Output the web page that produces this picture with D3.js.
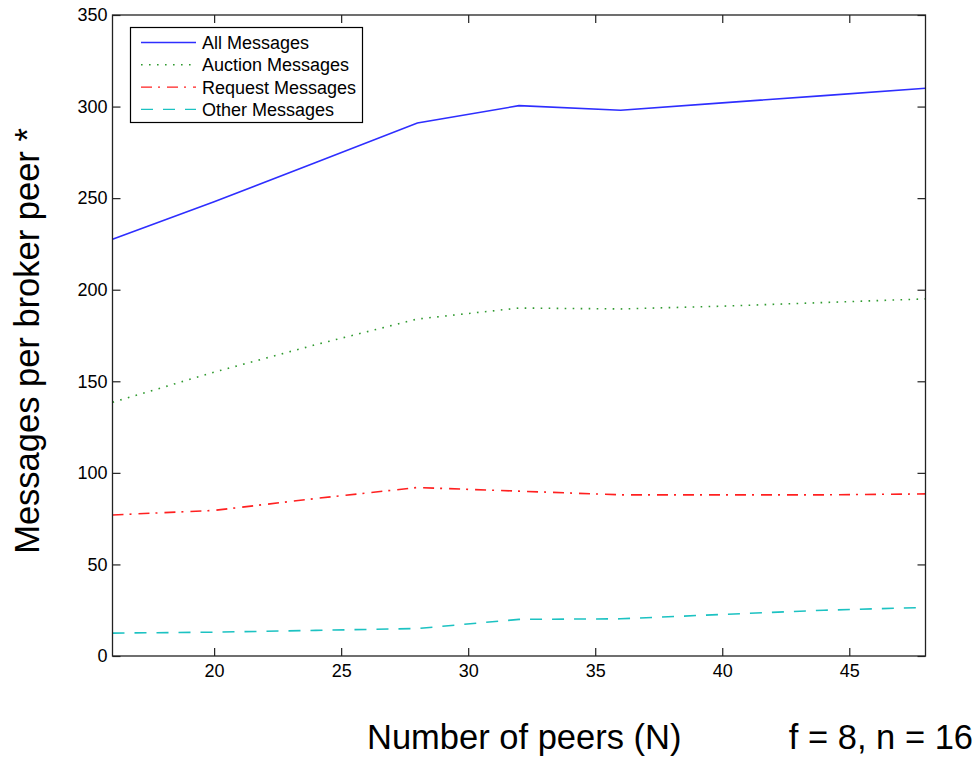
<!DOCTYPE html>
<html>
<head>
<meta charset="utf-8">
<script src="https://cdn.jsdelivr.net/npm/d3@7"></script>
<style>
  body { margin: 0; background: #fff; }
  text { font-family: Arial, "Liberation Sans", sans-serif; fill: #000; }
</style>
</head>
<body>
<div id="chart"></div>
<script>
// data
let peers = [16, 20, 24, 28, 32, 36, 40, 44, 48]
let allMessages = [227.5, 248, 269.5, 291, 300.5, 298, 302, 306, 310]
let auctionMessages = [138.5, 155, 170, 184, 190, 189.5, 191, 193, 195]
let requestMessages = [77, 79.5, 86, 92, 90, 88, 88, 88, 88.5]
let otherMessages = [12.5, 13, 14, 15, 20, 20.3, 22.7, 25, 26.5]
let seriesNames = ["All Messages", "Auction Messages", "Request Messages", "Other Messages"]
let xTicks = [20, 25, 30, 35, 40, 45]
let yTicks = [0, 50, 100, 150, 200, 250, 300, 350]

let cfg = {
  w: 978,
  h: 757,
  left: 112.5,
  right: 925.5,
  top: 15,
  bottom: 656,
  tick: 8,
  colors: ["#2e2eff", "#2f9a2f", "#ff2020", "#1cc2c2"],
  dashes: [null, "1.6,6.4", "11,6,2,7", "12,10"]
}

let series = [allMessages, auctionMessages, requestMessages, otherMessages]

let svg = d3.select("#chart")
  .append("svg")
  .attr("width", cfg.w)
  .attr("height", cfg.h)

let x = d3.scaleLinear().domain([16, 48]).range([cfg.left, cfg.right])
let y = d3.scaleLinear().domain([0, 350]).range([cfg.bottom, cfg.top])

// lines
let line = d3.line()
  .x(function (d, i) { return x(peers[i]) })
  .y(function (d) { return y(d) })

svg.selectAll(".serie")
  .data(series)
  .enter()
  .append("path")
  .attr("class", "serie")
  .attr("d", line)
  .style("fill", "none")
  .style("stroke", function (d, i) { return cfg.colors[i] })
  .style("stroke-width", "1.6px")
  .style("stroke-dasharray", function (d, i) { return cfg.dashes[i] })

// box with inward ticks on all four sides (matlab style)
let axisStyle = function (g) {
  g.select(".domain").remove()
  g.selectAll(".tick line").style("stroke", "#222").style("stroke-width", "1.2px")
  g.selectAll(".tick text").style("font-size", "18px").style("font-family", "Arial, 'Liberation Sans', sans-serif")
}

svg.append("g")
  .attr("transform", "translate(0," + cfg.bottom + ")")
  .call(d3.axisBottom(x).tickValues(xTicks).tickSizeInner(-cfg.tick).tickSizeOuter(0).tickPadding(10))
  .call(axisStyle)
  .selectAll(".tick text").attr("dy", "0.71em").attr("y", 8)

svg.append("g")
  .attr("transform", "translate(0," + cfg.top + ")")
  .call(d3.axisTop(x).tickValues(xTicks).tickSizeInner(-cfg.tick).tickSizeOuter(0).tickFormat(""))
  .call(axisStyle)

svg.append("g")
  .attr("transform", "translate(" + cfg.left + ",0)")
  .call(d3.axisLeft(y).tickValues(yTicks).tickSizeInner(-cfg.tick).tickSizeOuter(0).tickPadding(6))
  .call(axisStyle)
  .selectAll(".tick text").attr("x", -5)

svg.append("g")
  .attr("transform", "translate(" + cfg.right + ",0)")
  .call(d3.axisRight(y).tickValues(yTicks).tickSizeInner(-cfg.tick).tickSizeOuter(0).tickFormat(""))
  .call(axisStyle)

svg.append("rect")
  .attr("x", cfg.left)
  .attr("y", cfg.top)
  .attr("width", cfg.right - cfg.left)
  .attr("height", cfg.bottom - cfg.top)
  .style("fill", "none")
  .style("stroke", "#222")
  .style("stroke-width", "1.3px")

// legend
let legend = svg.append("g").attr("class", "legend")
legend.append("rect")
  .attr("x", 130.5)
  .attr("y", 27.5)
  .attr("width", 232)
  .attr("height", 95)
  .style("fill", "#fff")
  .style("stroke", "#000")
  .style("stroke-width", "1.2px")

let item = legend.selectAll(".item")
  .data(seriesNames)
  .enter()
  .append("g")
  .attr("class", "item")
  .attr("transform", function (d, i) { return "translate(0," + (42.5 + i * 22.3) + ")" })

item.append("line")
  .attr("x1", 141)
  .attr("x2", 196)
  .attr("y1", 0)
  .attr("y2", 0)
  .style("stroke", function (d, i) { return cfg.colors[i] })
  .style("stroke-width", "1.4px")
  .style("stroke-dasharray", function (d, i) { return cfg.dashes[i] })

item.append("text")
  .attr("x", 202)
  .attr("y", 0)
  .attr("dy", "0.36em")
  .style("font-size", "18px")
  .text(function (d) { return d })

// axis labels
svg.append("text")
  .attr("x", 367)
  .attr("y", 749)
  .style("font-size", "34.5px")
  .text("Number of peers (N)")

svg.append("text")
  .attr("x", 973)
  .attr("y", 749)
  .attr("text-anchor", "end")
  .style("font-size", "34.5px")
  .text("f = 8, n = 16")

svg.append("text")
  .attr("transform", "translate(39,341) rotate(-90)")
  .attr("text-anchor", "middle")
  .style("font-size", "34.5px")
  .text("Messages per broker peer *")
</script>
</body>
</html>
